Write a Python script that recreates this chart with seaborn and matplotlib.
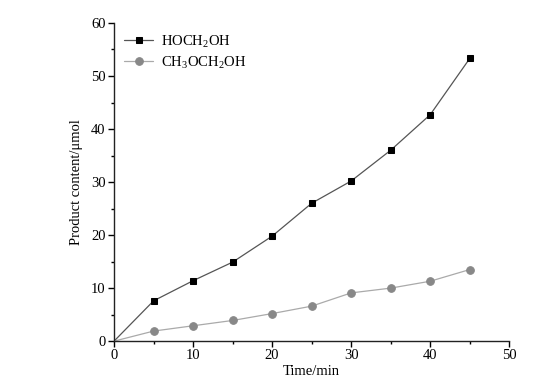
import numpy as np
import pandas as pd
import seaborn as sns
from matplotlib import pyplot as plt
from matplotlib.ticker import MultipleLocator

# data
time_min = [0, 5, 10, 15, 20, 25, 30, 35, 40, 45]
hoch2oh = [0, 7.6, 11.4, 14.9, 19.8, 26.0, 30.2, 36.0, 42.7, 53.3]
ch3och2oh = [0, 1.9, 2.9, 3.9, 5.2, 6.6, 9.1, 10.0, 11.3, 13.5]

sns.set_style("ticks")
plt.rcParams['font.family'] = ['Liberation Serif', 'DejaVu Serif']
plt.rcParams['mathtext.fontset'] = 'custom'
plt.rcParams['mathtext.rm'] = 'Liberation Serif'
plt.rcParams['font.size'] = 10
plt.rcParams['text.color'] = 'black'
plt.rcParams['axes.labelcolor'] = 'black'
plt.rcParams['xtick.color'] = 'black'
plt.rcParams['ytick.color'] = 'black'
plt.rcParams['axes.edgecolor'] = '#222222'

fig = plt.figure(figsize=(5.59, 3.89), dpi=100)
ax = fig.add_axes([0.204, 0.123, 0.707, 0.818])

df = pd.DataFrame({'t': time_min, 'a': hoch2oh, 'b': ch3och2oh})

# no marker drawn at the origin in the reference
sns.lineplot(data=df, x='t', y='a', ax=ax, color='#555555', lw=0.9,
             marker='s', markersize=5, markerfacecolor='black',
             markeredgecolor='black', markevery=list(range(1, 10)),
             label='HOCH$_2$OH')
sns.lineplot(data=df, x='t', y='b', ax=ax, color='#aaaaaa', lw=0.9,
             marker='o', markersize=5.5, markerfacecolor='#888888',
             markeredgecolor='#888888', markevery=list(range(1, 10)),
             label='CH$_3$OCH$_2$OH')

ax.set_xlim(0, 50)
ax.set_ylim(0, 60)
ax.xaxis.set_major_locator(MultipleLocator(10))
ax.xaxis.set_minor_locator(MultipleLocator(5))
ax.yaxis.set_major_locator(MultipleLocator(10))
ax.yaxis.set_minor_locator(MultipleLocator(5))
ax.tick_params(which='major', length=4, width=1, labelsize=10.5, pad=2)
ax.tick_params(which='minor', length=2.5, width=1)

ax.spines['top'].set_visible(False)
ax.spines['right'].set_visible(False)
ax.spines['bottom'].set_linewidth(1)
ax.spines['left'].set_linewidth(1)

ax.set_xlabel('Time/min', fontsize=10.5, labelpad=2)
ax.set_ylabel('Product content/μmol', fontsize=10.5, labelpad=6)

leg = ax.legend(loc='upper left', frameon=False, fontsize=10.5, handlelength=2.0,
                borderaxespad=0.3, labelspacing=0.3, handletextpad=0.5)
for h in leg.legend_handles:
    h.set_markevery([1])

plt.savefig('out.png', dpi=100)
